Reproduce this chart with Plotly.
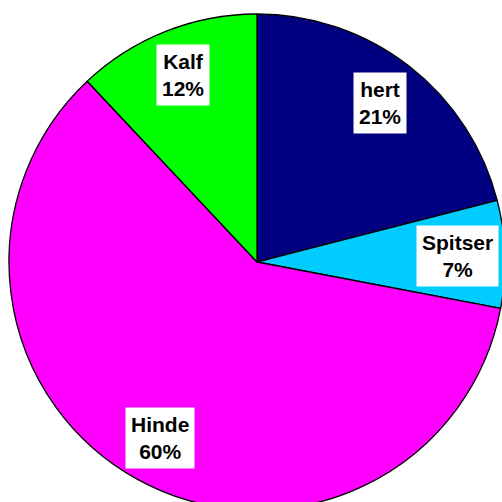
import math
import plotly.graph_objects as go

labels = ["hert", "Spitser", "Hinde", "Kalf"]
values = [21, 7, 60, 12]
colors = ["#000080", "#00CCFF", "#FF00FF", "#00FF00"]

W, H = 510, 512
cx, cy, R = 257, 262, 248  # pixel centre / radius of the pie

fig = go.Figure(go.Pie(
    labels=labels, values=values, sort=False, direction="clockwise", rotation=0,
    marker=dict(colors=colors, line=dict(color="black", width=1.3)),
    textinfo="none", hoverinfo="label+percent", showlegend=False,
    domain=dict(x=[(cx - R) / W, (cx + R) / W], y=[(H - cy - R) / H, (H - cy + R) / H]),
))

total = sum(values)
cum = 0
annotations = []
for lab, v in zip(labels, values):
    mid = (cum + v / 2) / total * 2 * math.pi
    cum += v
    k = 0.81
    px = cx + math.sin(mid) * R * k
    py = cy - math.cos(mid) * R * k
    annotations.append(dict(
        x=px / W, y=1 - py / H, xref="paper", yref="paper",
        xanchor="center", yanchor="middle",
        text=f"<b>{lab}<br>{round(v / total * 100)}%</b>", showarrow=False,
        bgcolor="white", borderpad=5, align="center",
        font=dict(family="Liberation Sans, Arial, sans-serif", size=21, color="black"),
    ))

fig.update_layout(
    width=W, height=H, margin=dict(l=0, r=0, t=0, b=0),
    paper_bgcolor="white", plot_bgcolor="white", annotations=annotations,
)

fig.write_html("out.html", config={"displayModeBar": False}, post_script=(
    "document.body.style.margin='0';document.body.style.overflow='hidden';"
    "document.documentElement.style.overflow='hidden';"))
